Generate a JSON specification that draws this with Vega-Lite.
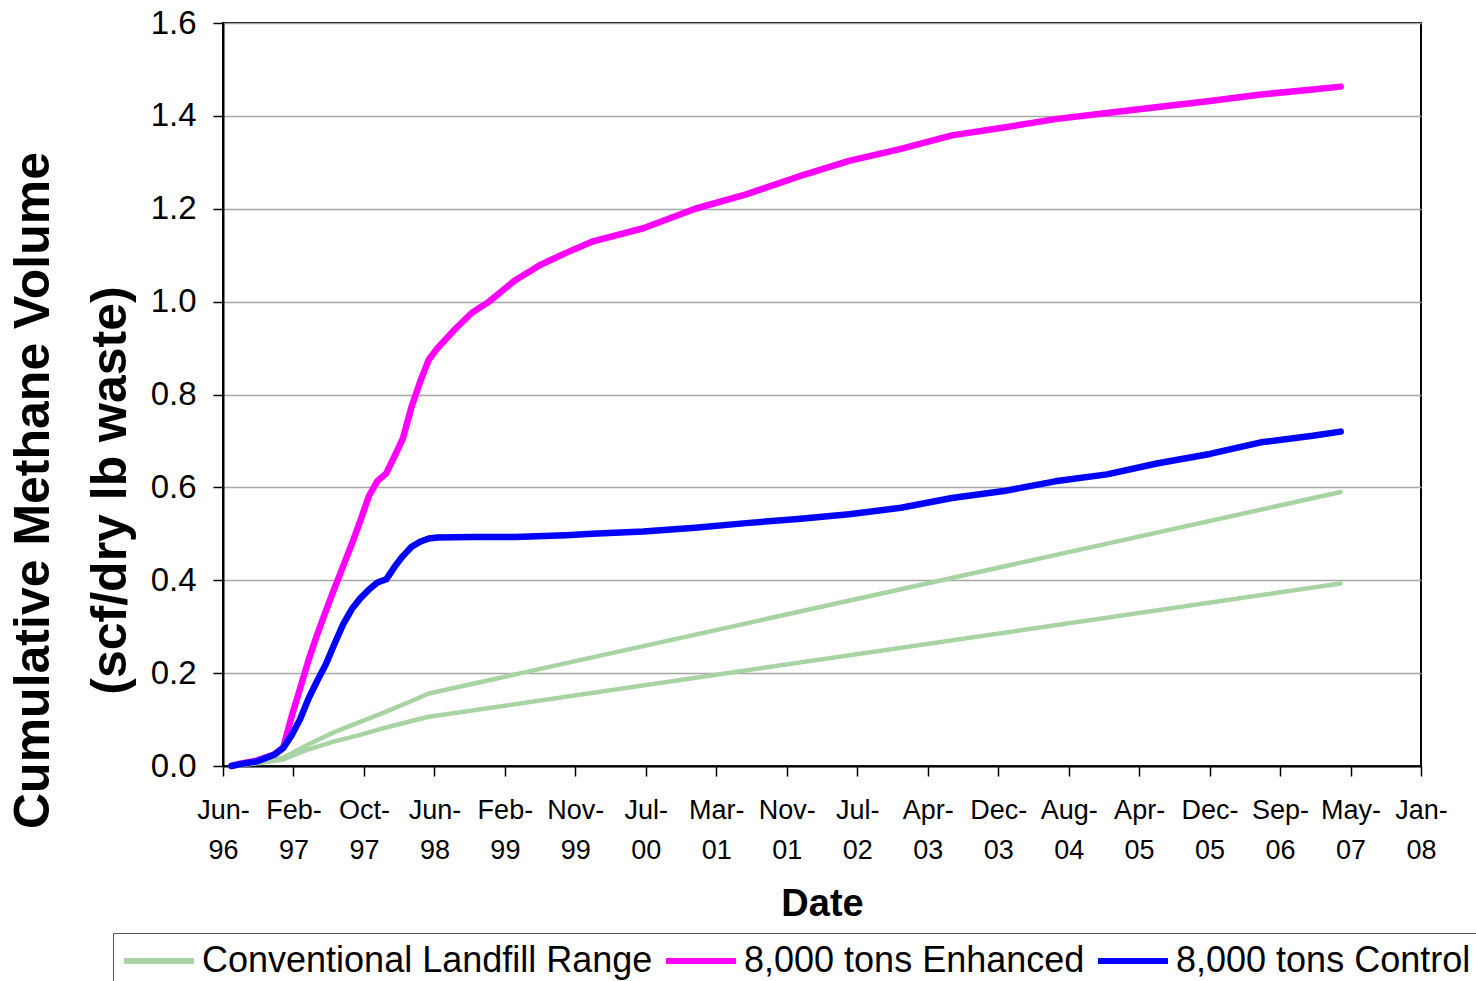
{
  "$schema": "https://vega.github.io/schema/vega-lite/v6.json",
  "width": 1198,
  "height": 743,
  "autosize": {"type": "none"},
  "padding": {"left": 223, "top": 23, "right": 55, "bottom": 215},
  "background": "white",
  "config": {"font": "Liberation Sans", "view": {"stroke": "#000000", "strokeWidth": 2}},
  "data": {"values": [
    {"date": "1996-07-01", "value": 0, "series": "Conventional Landfill Range", "line": "upper"},
    {"date": "1996-10-01", "value": 0.008, "series": "Conventional Landfill Range", "line": "upper"},
    {"date": "1997-01-01", "value": 0.018, "series": "Conventional Landfill Range", "line": "upper"},
    {"date": "1997-04-01", "value": 0.047, "series": "Conventional Landfill Range", "line": "upper"},
    {"date": "1997-07-01", "value": 0.073, "series": "Conventional Landfill Range", "line": "upper"},
    {"date": "1997-10-01", "value": 0.095, "series": "Conventional Landfill Range", "line": "upper"},
    {"date": "1998-01-01", "value": 0.117, "series": "Conventional Landfill Range", "line": "upper"},
    {"date": "1998-04-01", "value": 0.14, "series": "Conventional Landfill Range", "line": "upper"},
    {"date": "1998-06-01", "value": 0.156, "series": "Conventional Landfill Range", "line": "upper"},
    {"date": "2007-04-10", "value": 0.59, "series": "Conventional Landfill Range", "line": "upper"},
    {"date": "1996-07-01", "value": 0, "series": "Conventional Landfill Range", "line": "lower"},
    {"date": "1996-10-01", "value": 0.006, "series": "Conventional Landfill Range", "line": "lower"},
    {"date": "1997-01-01", "value": 0.014, "series": "Conventional Landfill Range", "line": "lower"},
    {"date": "1997-04-01", "value": 0.036, "series": "Conventional Landfill Range", "line": "lower"},
    {"date": "1997-07-01", "value": 0.053, "series": "Conventional Landfill Range", "line": "lower"},
    {"date": "1997-10-01", "value": 0.067, "series": "Conventional Landfill Range", "line": "lower"},
    {"date": "1998-01-01", "value": 0.083, "series": "Conventional Landfill Range", "line": "lower"},
    {"date": "1998-04-01", "value": 0.097, "series": "Conventional Landfill Range", "line": "lower"},
    {"date": "1998-06-01", "value": 0.106, "series": "Conventional Landfill Range", "line": "lower"},
    {"date": "2007-04-10", "value": 0.393, "series": "Conventional Landfill Range", "line": "lower"},

    {"date": "1996-07-01", "value": 0, "series": "8,000 tons Enhanced", "line": "enhanced"},
    {"date": "1996-08-01", "value": 0.005, "series": "8,000 tons Enhanced", "line": "enhanced"},
    {"date": "1996-10-01", "value": 0.012, "series": "8,000 tons Enhanced", "line": "enhanced"},
    {"date": "1996-12-01", "value": 0.025, "series": "8,000 tons Enhanced", "line": "enhanced"},
    {"date": "1997-01-01", "value": 0.04, "series": "8,000 tons Enhanced", "line": "enhanced"},
    {"date": "1997-02-01", "value": 0.11, "series": "8,000 tons Enhanced", "line": "enhanced"},
    {"date": "1997-03-01", "value": 0.166, "series": "8,000 tons Enhanced", "line": "enhanced"},
    {"date": "1997-04-01", "value": 0.229, "series": "8,000 tons Enhanced", "line": "enhanced"},
    {"date": "1997-05-01", "value": 0.283, "series": "8,000 tons Enhanced", "line": "enhanced"},
    {"date": "1997-06-01", "value": 0.334, "series": "8,000 tons Enhanced", "line": "enhanced"},
    {"date": "1997-07-01", "value": 0.382, "series": "8,000 tons Enhanced", "line": "enhanced"},
    {"date": "1997-08-01", "value": 0.43, "series": "8,000 tons Enhanced", "line": "enhanced"},
    {"date": "1997-09-01", "value": 0.478, "series": "8,000 tons Enhanced", "line": "enhanced"},
    {"date": "1997-10-01", "value": 0.528, "series": "8,000 tons Enhanced", "line": "enhanced"},
    {"date": "1997-11-01", "value": 0.582, "series": "8,000 tons Enhanced", "line": "enhanced"},
    {"date": "1997-12-01", "value": 0.614, "series": "8,000 tons Enhanced", "line": "enhanced"},
    {"date": "1998-01-01", "value": 0.63, "series": "8,000 tons Enhanced", "line": "enhanced"},
    {"date": "1998-02-01", "value": 0.669, "series": "8,000 tons Enhanced", "line": "enhanced"},
    {"date": "1998-03-01", "value": 0.705, "series": "8,000 tons Enhanced", "line": "enhanced"},
    {"date": "1998-04-01", "value": 0.774, "series": "8,000 tons Enhanced", "line": "enhanced"},
    {"date": "1998-05-01", "value": 0.827, "series": "8,000 tons Enhanced", "line": "enhanced"},
    {"date": "1998-06-01", "value": 0.875, "series": "8,000 tons Enhanced", "line": "enhanced"},
    {"date": "1998-07-01", "value": 0.899, "series": "8,000 tons Enhanced", "line": "enhanced"},
    {"date": "1998-09-01", "value": 0.94, "series": "8,000 tons Enhanced", "line": "enhanced"},
    {"date": "1998-11-01", "value": 0.976, "series": "8,000 tons Enhanced", "line": "enhanced"},
    {"date": "1999-01-01", "value": 1.0, "series": "8,000 tons Enhanced", "line": "enhanced"},
    {"date": "1999-04-01", "value": 1.045, "series": "8,000 tons Enhanced", "line": "enhanced"},
    {"date": "1999-07-01", "value": 1.079, "series": "8,000 tons Enhanced", "line": "enhanced"},
    {"date": "1999-10-01", "value": 1.105, "series": "8,000 tons Enhanced", "line": "enhanced"},
    {"date": "2000-01-01", "value": 1.129, "series": "8,000 tons Enhanced", "line": "enhanced"},
    {"date": "2000-07-01", "value": 1.158, "series": "8,000 tons Enhanced", "line": "enhanced"},
    {"date": "2001-01-01", "value": 1.2, "series": "8,000 tons Enhanced", "line": "enhanced"},
    {"date": "2001-07-01", "value": 1.231, "series": "8,000 tons Enhanced", "line": "enhanced"},
    {"date": "2002-01-01", "value": 1.269, "series": "8,000 tons Enhanced", "line": "enhanced"},
    {"date": "2002-07-01", "value": 1.303, "series": "8,000 tons Enhanced", "line": "enhanced"},
    {"date": "2003-01-01", "value": 1.329, "series": "8,000 tons Enhanced", "line": "enhanced"},
    {"date": "2003-07-01", "value": 1.358, "series": "8,000 tons Enhanced", "line": "enhanced"},
    {"date": "2004-01-01", "value": 1.375, "series": "8,000 tons Enhanced", "line": "enhanced"},
    {"date": "2004-07-01", "value": 1.393, "series": "8,000 tons Enhanced", "line": "enhanced"},
    {"date": "2005-01-01", "value": 1.406, "series": "8,000 tons Enhanced", "line": "enhanced"},
    {"date": "2005-07-01", "value": 1.419, "series": "8,000 tons Enhanced", "line": "enhanced"},
    {"date": "2006-01-01", "value": 1.432, "series": "8,000 tons Enhanced", "line": "enhanced"},
    {"date": "2006-07-01", "value": 1.446, "series": "8,000 tons Enhanced", "line": "enhanced"},
    {"date": "2007-01-01", "value": 1.457, "series": "8,000 tons Enhanced", "line": "enhanced"},
    {"date": "2007-04-10", "value": 1.463, "series": "8,000 tons Enhanced", "line": "enhanced"},

    {"date": "1996-07-01", "value": 0, "series": "8,000 tons Control", "line": "control"},
    {"date": "1996-08-01", "value": 0.004, "series": "8,000 tons Control", "line": "control"},
    {"date": "1996-10-01", "value": 0.01, "series": "8,000 tons Control", "line": "control"},
    {"date": "1996-12-01", "value": 0.025, "series": "8,000 tons Control", "line": "control"},
    {"date": "1997-01-01", "value": 0.039, "series": "8,000 tons Control", "line": "control"},
    {"date": "1997-02-01", "value": 0.068, "series": "8,000 tons Control", "line": "control"},
    {"date": "1997-03-01", "value": 0.1, "series": "8,000 tons Control", "line": "control"},
    {"date": "1997-04-01", "value": 0.146, "series": "8,000 tons Control", "line": "control"},
    {"date": "1997-05-01", "value": 0.183, "series": "8,000 tons Control", "line": "control"},
    {"date": "1997-06-01", "value": 0.219, "series": "8,000 tons Control", "line": "control"},
    {"date": "1997-07-01", "value": 0.262, "series": "8,000 tons Control", "line": "control"},
    {"date": "1997-08-01", "value": 0.305, "series": "8,000 tons Control", "line": "control"},
    {"date": "1997-09-01", "value": 0.338, "series": "8,000 tons Control", "line": "control"},
    {"date": "1997-10-01", "value": 0.361, "series": "8,000 tons Control", "line": "control"},
    {"date": "1997-11-01", "value": 0.38, "series": "8,000 tons Control", "line": "control"},
    {"date": "1997-12-01", "value": 0.395, "series": "8,000 tons Control", "line": "control"},
    {"date": "1998-01-01", "value": 0.402, "series": "8,000 tons Control", "line": "control"},
    {"date": "1998-02-01", "value": 0.43, "series": "8,000 tons Control", "line": "control"},
    {"date": "1998-03-01", "value": 0.452, "series": "8,000 tons Control", "line": "control"},
    {"date": "1998-04-01", "value": 0.472, "series": "8,000 tons Control", "line": "control"},
    {"date": "1998-05-01", "value": 0.483, "series": "8,000 tons Control", "line": "control"},
    {"date": "1998-06-01", "value": 0.49, "series": "8,000 tons Control", "line": "control"},
    {"date": "1998-07-01", "value": 0.492, "series": "8,000 tons Control", "line": "control"},
    {"date": "1998-11-01", "value": 0.493, "series": "8,000 tons Control", "line": "control"},
    {"date": "1999-04-01", "value": 0.493, "series": "8,000 tons Control", "line": "control"},
    {"date": "1999-10-01", "value": 0.497, "series": "8,000 tons Control", "line": "control"},
    {"date": "2000-01-01", "value": 0.5, "series": "8,000 tons Control", "line": "control"},
    {"date": "2000-07-01", "value": 0.505, "series": "8,000 tons Control", "line": "control"},
    {"date": "2001-01-01", "value": 0.513, "series": "8,000 tons Control", "line": "control"},
    {"date": "2001-07-01", "value": 0.523, "series": "8,000 tons Control", "line": "control"},
    {"date": "2002-01-01", "value": 0.532, "series": "8,000 tons Control", "line": "control"},
    {"date": "2002-07-01", "value": 0.542, "series": "8,000 tons Control", "line": "control"},
    {"date": "2003-01-01", "value": 0.556, "series": "8,000 tons Control", "line": "control"},
    {"date": "2003-07-01", "value": 0.577, "series": "8,000 tons Control", "line": "control"},
    {"date": "2004-01-01", "value": 0.592, "series": "8,000 tons Control", "line": "control"},
    {"date": "2004-07-01", "value": 0.613, "series": "8,000 tons Control", "line": "control"},
    {"date": "2005-01-01", "value": 0.628, "series": "8,000 tons Control", "line": "control"},
    {"date": "2005-07-01", "value": 0.652, "series": "8,000 tons Control", "line": "control"},
    {"date": "2006-01-01", "value": 0.672, "series": "8,000 tons Control", "line": "control"},
    {"date": "2006-07-01", "value": 0.697, "series": "8,000 tons Control", "line": "control"},
    {"date": "2007-01-01", "value": 0.711, "series": "8,000 tons Control", "line": "control"},
    {"date": "2007-04-10", "value": 0.72, "series": "8,000 tons Control", "line": "control"}
  ]},
  "encoding": {
    "x": {
      "field": "date",
      "type": "temporal",
      "scale": {
        "type": "utc",
        "domain": [
          {"year": 1996, "month": 6, "date": 1, "utc": true},
          {"year": 2008, "month": 1, "date": 20, "utc": true}
        ]
      },
      "axis": {
        "values": [
          {"year": 1996, "month": 6, "date": 1, "utc": true},
          {"year": 1997, "month": 2, "date": 6, "utc": true},
          {"year": 1997, "month": 10, "date": 14, "utc": true},
          {"year": 1998, "month": 6, "date": 21, "utc": true},
          {"year": 1999, "month": 2, "date": 26, "utc": true},
          {"year": 1999, "month": 11, "date": 3, "utc": true},
          {"year": 2000, "month": 7, "date": 10, "utc": true},
          {"year": 2001, "month": 3, "date": 17, "utc": true},
          {"year": 2001, "month": 11, "date": 22, "utc": true},
          {"year": 2002, "month": 7, "date": 30, "utc": true},
          {"year": 2003, "month": 4, "date": 6, "utc": true},
          {"year": 2003, "month": 12, "date": 12, "utc": true},
          {"year": 2004, "month": 8, "date": 18, "utc": true},
          {"year": 2005, "month": 4, "date": 25, "utc": true},
          {"year": 2005, "month": 12, "date": 31, "utc": true},
          {"year": 2006, "month": 9, "date": 7, "utc": true},
          {"year": 2007, "month": 5, "date": 15, "utc": true},
          {"year": 2008, "month": 1, "date": 20, "utc": true}
        ],
        "labelExpr": "[utcFormat(datum.value, '%b-'), utcFormat(datum.value, '%y')]",
        "labelFontSize": 27,
        "labelLineHeight": 40,
        "labelColor": "#000000",
        "labelPadding": 21,
        "labelOverlap": false,
        "labelFlush": false,
        "labelBound": false,
        "tickSize": 10,
        "tickColor": "#000000",
        "tickWidth": 1.5,
        "domainColor": "#000000",
        "domainWidth": 2,
        "grid": false,
        "title": "Date",
        "titleFontSize": 38,
        "titleFontWeight": "bold",
        "titleColor": "#000000",
        "titleX": 599,
        "titleY": 149,
        "titleBaseline": "alphabetic",
        "titleAlign": "center"
      }
    },
    "y": {
      "field": "value",
      "type": "quantitative",
      "scale": {"domain": [0, 1.6], "nice": false, "zero": true},
      "axis": {
        "values": [0, 0.2, 0.4, 0.6, 0.8, 1.0, 1.2, 1.4, 1.6],
        "format": ".1f",
        "labelFontSize": 33,
        "labelColor": "#000000",
        "labelPadding": 17,
        "tickSize": 10,
        "tickColor": "#000000",
        "tickWidth": 1.5,
        "domainColor": "#000000",
        "domainWidth": 2,
        "grid": true,
        "gridColor": "#a6a6a6",
        "gridWidth": 1.5,
        "title": ["Cumulative Methane Volume", "(scf/dry lb waste)"],
        "titleFontSize": 50,
        "titleFontWeight": "bold",
        "titleColor": "#000000",
        "titleAngle": 270,
        "titleX": -175,
        "titleY": 467,
        "titleBaseline": "alphabetic",
        "titleAlign": "center",
        "titleLineHeight": 77
      }
    },
    "color": {
      "field": "series",
      "type": "nominal",
      "scale": {
        "domain": ["Conventional Landfill Range", "8,000 tons Enhanced", "8,000 tons Control"],
        "range": ["#a8d4a3", "#ff00ff", "#0000ff"]
      },
      "legend": {
        "orient": "none",
        "legendX": -110,
        "legendY": 910,
        "direction": "horizontal",
        "columns": 3,
        "title": null,
        "symbolType": "stroke",
        "symbolSize": 4900,
        "symbolStrokeWidth": 6,
        "clipHeight": 40,
        "labelFontSize": 36,
        "labelColor": "#000000",
        "labelLimit": 800,
        "labelOffset": 5,
        "columnPadding": 10,
        "padding": 8,
        "strokeColor": "#555555",
        "fillColor": "#ffffff"
      }
    },
    "detail": {"field": "line", "type": "nominal"}
  },
  "layer": [
    {
      "transform": [{"filter": "datum.series === 'Conventional Landfill Range'"}],
      "mark": {"type": "line", "strokeWidth": 4.5, "strokeCap": "round", "strokeJoin": "round"}
    },
    {
      "transform": [{"filter": "datum.series !== 'Conventional Landfill Range'"}],
      "mark": {"type": "line", "strokeWidth": 6.5, "strokeCap": "round", "strokeJoin": "round"}
    }
  ]
}
